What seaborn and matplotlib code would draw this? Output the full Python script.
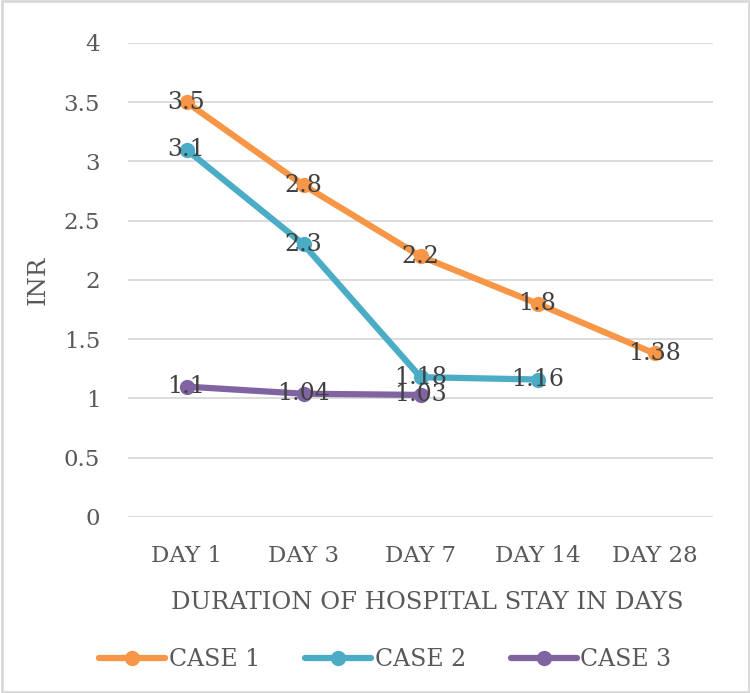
import pandas as pd
import numpy as np
import seaborn as sns
import matplotlib.pyplot as plt

# chart values
days = ['DAY 1', 'DAY 3', 'DAY 7', 'DAY 14', 'DAY 28']
case1 = [3.5, 2.8, 2.2, 1.8, 1.38]
case2 = [3.1, 2.3, 1.18, 1.16, np.nan]
case3 = [1.1, 1.04, 1.03, np.nan, np.nan]
cases = ['CASE 1', 'CASE 2', 'CASE 3']
colors = ['#F79646', '#4BACC6', '#8064A2']

# long table for seaborn
rows = []
for name, vals in zip(cases, [case1, case2, case3]):
    for d, v in zip(days, vals):
        rows.append({'day': d, 'case': name, 'inr': v})
df = pd.DataFrame(rows)

sns.set_style('white')
plt.rcParams['font.family'] = ['DejaVu Serif']

fig = plt.figure(figsize=(7.5, 6.93), dpi=100)
ax = fig.add_axes([0.1707, 0.254, 0.78, 0.684])

sns.lineplot(data=df.dropna(), x='day', y='inr', hue='case', palette=colors,
             marker='o', markersize=11, markeredgewidth=0, linewidth=4.5,
             sort=False, ax=ax)

# data labels centred on the points
for vals in [case1, case2, case3]:
    for i, v in enumerate(vals):
        if not np.isnan(v):
            ax.text(i, v, f'{v:g}', ha='center', va='center', fontsize=17,
                    color='#404040', zorder=5)

ax.set_xlim(-0.5, 4.5)
ax.set_ylim(0, 4)
ax.set_yticks(np.arange(0, 4.01, 0.5))
ax.set_yticklabels([f'{t:g}' for t in np.arange(0, 4.01, 0.5)])
ax.grid(axis='y', color='#d9d9d9', linewidth=1.3)
ax.set_axisbelow(True)
for s in ax.spines.values():
    s.set_visible(False)
ax.tick_params(axis='both', length=0, labelsize=16.5, colors='#595959')
ax.tick_params(axis='y', pad=20)
ax.tick_params(axis='x', pad=20)

ax.set_xlabel('DURATION OF HOSPITAL STAY IN DAYS', fontsize=17.5, color='#595959')
ax.xaxis.set_label_coords(0.512, -0.156)
ax.set_ylabel('INR', fontsize=17.5, color='#595959', labelpad=10)

leg = ax.legend(loc='upper center', bbox_to_anchor=(0.44, -0.232), ncol=3, frameon=False,
                fontsize=17, handlelength=2.8, handletextpad=0.15, columnspacing=1.9,
                labelcolor='#595959')

# light outer frame like the original
fig.patches.append(plt.Rectangle((0.002, 0.002), 0.996, 0.996, transform=fig.transFigure,
                                 fill=False, edgecolor='#d9d9d9', linewidth=2))

fig.savefig('out.png', dpi=100)
